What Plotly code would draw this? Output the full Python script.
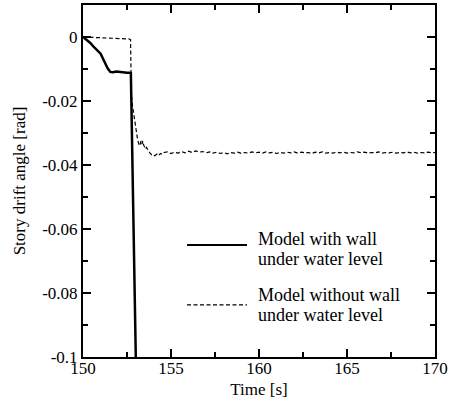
import plotly.graph_objects as go

# ---- Data ----
time_with_wall = [150.0, 150.2, 150.4, 150.6, 150.8, 151.0, 151.2, 151.4, 151.55, 151.7,
                  151.9, 152.1, 152.3, 152.5, 152.65, 152.72, 153.0, 153.02]
drift_with_wall = [0.0, -0.0008, -0.0018, -0.0030, -0.0042, -0.0052, -0.0075, -0.0098, -0.0109, -0.0110,
                   -0.0108, -0.0110, -0.0111, -0.0112, -0.0112, -0.0113, -0.1000, -0.1060]

time_without_wall = [150.0, 150.5, 151.0, 151.5, 152.0, 152.3, 152.6, 152.7, 152.72, 152.75,
                     152.8, 152.85, 152.9, 152.95, 153.0, 153.05, 153.1, 153.15, 153.2, 153.25,
                     153.3, 153.35, 153.4, 153.45, 153.5, 153.55, 153.6, 153.7, 153.8, 153.9,
                     154.0, 154.1, 154.2, 154.3, 154.4, 154.5, 154.6, 154.8,
                     155.0, 155.2, 155.4, 155.6, 155.8, 156.0, 156.2, 156.4, 156.6, 156.8,
                     157.0, 157.2, 157.4, 157.6, 157.8, 158.0, 158.2, 158.4, 158.6, 158.8,
                     159.0, 159.2, 159.4, 159.6, 159.8, 160.0, 160.2, 160.4, 160.6, 160.8,
                     161.0, 161.2, 161.4, 161.6, 161.8, 162.0, 162.2, 162.4, 162.6, 162.8,
                     163.0, 163.2, 163.4, 163.6, 163.8, 164.0, 164.2, 164.4, 164.6, 164.8,
                     165.0, 165.2, 165.4, 165.6, 165.8, 166.0, 166.2, 166.4, 166.6, 166.8,
                     167.0, 167.2, 167.4, 167.6, 167.8, 168.0, 168.2, 168.4, 168.6, 168.8,
                     169.0, 169.2, 169.4, 169.6, 169.8, 170.0]
drift_without_wall = [0.0, -0.0001, -0.0002, -0.0003, -0.0004, -0.0005, -0.0006, -0.0008, -0.0080, -0.0180,
                      -0.0210, -0.0230, -0.0250, -0.0270, -0.0290, -0.0300, -0.0320, -0.0330, -0.0340, -0.0335,
                      -0.0325, -0.0335, -0.0325, -0.0338, -0.0342, -0.0350, -0.0345, -0.0355, -0.0362, -0.0368,
                      -0.0372, -0.0370, -0.0366, -0.0371, -0.0364, -0.0367, -0.0361, -0.0359,
                      -0.0364, -0.0360, -0.0363, -0.0358, -0.0362, -0.0357, -0.0361, -0.0356, -0.0360, -0.0358,
                      -0.0362, -0.0359, -0.0363, -0.0360, -0.0364, -0.0361, -0.0365, -0.0361, -0.0363, -0.0360,
                      -0.0364, -0.0361, -0.0363, -0.0359, -0.0362, -0.0360, -0.0363, -0.0359, -0.0362, -0.0360,
                      -0.0364, -0.0361, -0.0363, -0.0360, -0.0362, -0.0359, -0.0363, -0.0360, -0.0362, -0.0361,
                      -0.0364, -0.0360, -0.0362, -0.0359, -0.0363, -0.0361, -0.0363, -0.0360, -0.0362, -0.0360,
                      -0.0363, -0.0361, -0.0362, -0.0359, -0.0362, -0.0360, -0.0363, -0.0361, -0.0362, -0.0359,
                      -0.0363, -0.0361, -0.0362, -0.0360, -0.0363, -0.0361, -0.0362, -0.0359, -0.0362, -0.0360,
                      -0.0363, -0.0361, -0.0362, -0.0360, -0.0362, -0.0361]

x_tick_vals = [150, 155, 160, 165, 170]
x_tick_text = ["150", "155", "160", "165", "170"]
y_tick_vals = [0, -0.02, -0.04, -0.06, -0.08, -0.1]
y_tick_text = ["0", "-0.02", "-0.04", "-0.06", "-0.08", "-0.1"]

legend_with = ["Model with wall", "under water level"]
legend_without = ["Model without wall", "under water level"]

FONT = "Liberation Serif, Times New Roman, Times, serif"

fig = go.Figure()
fig.add_trace(go.Scatter(x=time_with_wall, y=drift_with_wall, mode="lines",
                         line=dict(color="black", width=2.5), name="with"))
fig.add_trace(go.Scatter(x=time_without_wall, y=drift_without_wall, mode="lines",
                         line=dict(color="black", width=1.2, dash="4px,2.5px"), name="without"))

axis_common = dict(showline=True, linecolor="black", linewidth=2, mirror="allticks",
                   ticks="inside", tickcolor="black", tickwidth=1.5, ticklen=8,
                   showgrid=False, zeroline=False, automargin=False,
                   tickfont=dict(family=FONT, size=17, color="black"))

fig.update_xaxes(range=[150, 170], tickmode="array", tickvals=x_tick_vals, ticktext=x_tick_text,
                 ticklabelstandoff=-5,
                 minor=dict(ticks="inside", dtick=2.5, tick0=150, ticklen=5, tickwidth=1.5, tickcolor="black"),
                 title=dict(text="Time [s]", font=dict(family=FONT, size=17, color="black"), standoff=6),
                 **axis_common)
fig.update_yaxes(range=[-0.1, 0.01], tickmode="array", tickvals=y_tick_vals, ticktext=y_tick_text,
                 minor=dict(ticks="inside", dtick=0.01, tick0=0, ticklen=5, tickwidth=1.5, tickcolor="black"),
                 title=dict(text="Story drift angle [rad]", font=dict(family=FONT, size=17, color="black"), standoff=12),
                 **axis_common)

# Manual legend (paper coordinates)
shapes = [
    dict(type="line", xref="paper", yref="paper", x0=0.2955, x1=0.466, y0=0.318, y1=0.318,
         line=dict(color="black", width=2)),
    dict(type="line", xref="paper", yref="paper", x0=0.2955, x1=0.466, y0=0.148, y1=0.148,
         line=dict(color="black", width=1.2, dash="4px,2.5px")),
]
annotations = []
for lines, ybase in [(legend_with, 0.318), (legend_without, 0.160)]:
    for i, txt in enumerate(lines):
        annotations.append(dict(xref="paper", yref="paper", x=0.4915, y=ybase + 0.017 - i * 0.058,
                                xanchor="left", yanchor="middle", showarrow=False, text=txt,
                                font=dict(family=FONT, size=18, color="black")))

fig.update_layout(width=455, height=405, margin=dict(l=83, r=20, t=5, b=48),
                  paper_bgcolor="white", plot_bgcolor="white", showlegend=False,
                  shapes=shapes, annotations=annotations,
                  font=dict(family=FONT, color="black"))

fig.write_html("out.html", config={"displayModeBar": False},
               post_script="document.body.style.margin='0';")
